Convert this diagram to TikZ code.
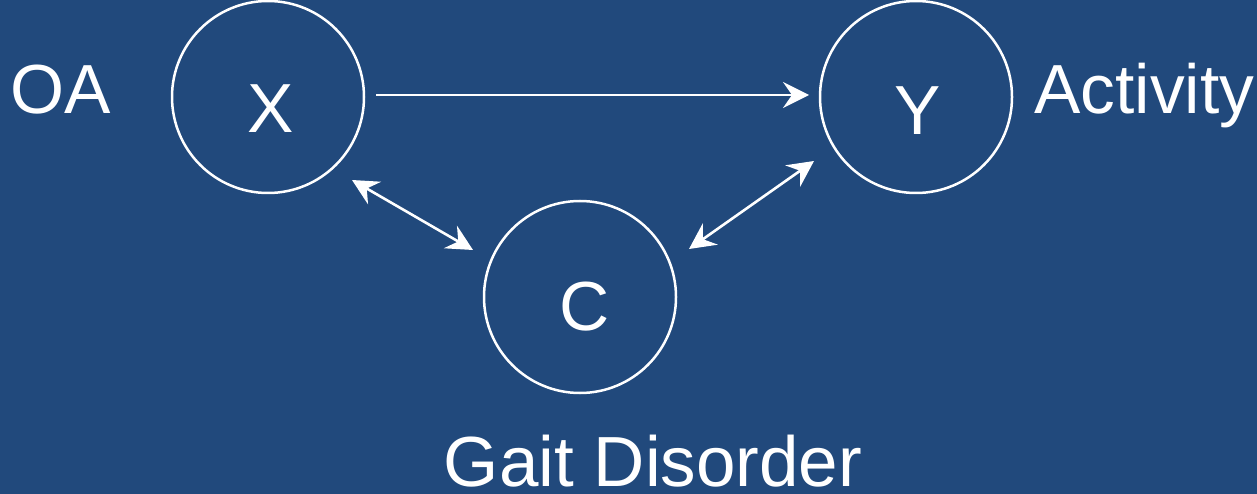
\documentclass[tikz,border=0pt]{standalone}
\usepackage{fontspec}
\setmainfont{Liberation Sans}
\usetikzlibrary{arrows.meta}
\definecolor{bgblue}{RGB}{33,73,124}
\tikzset{
  var/.style={draw=white, line width=2.5pt, circle, minimum size=192pt, inner sep=0pt},
  lbl/.style={text=white, inner sep=0pt, font=\fontsize{69.5}{80}\selectfont},
  biglbl/.style={lbl, font=\fontsize{71}{80}\selectfont},
  link/.style={draw=white, line width=2.6pt, -{Stealth[length=26pt,width=26pt,inset=9pt]}},
  bilink/.style={draw=white, line width=2.6pt, {Stealth[length=26pt,width=26pt,inset=9pt]}-{Stealth[length=26pt,width=26pt,inset=9pt]}}
}
\begin{document}
\begin{tikzpicture}[x=1pt,y=-1pt]
  \fill[bgblue] (0,0) rectangle (1257,494);
  \useasboundingbox (0,0) rectangle (1257,494);
  % variable circles
  \node[var] (x) at (268,97) {};
  \node[var] (y) at (916,97) {};
  \node[var] (c) at (580,297) {};
  % letters inside the circles
  \node[lbl, anchor=base] (xt) at (271,133) {X};
  \node[lbl, anchor=base] (yt) at (918,135) {Y};
  \node[lbl, anchor=base] (ct) at (585,330) {C};
  % descriptive labels
  \node[lbl, anchor=base west] (oa) at (10,114) {OA};
  \node[lbl, anchor=base west] (act) at (1034,114) {Activity};
  \node[biglbl, anchor=base] (gait) at (653,486) {Gait Disorder};
  % edge endpoints
  \coordinate (xr) at (376,95);
  \coordinate (yl) at (809,95);
  \coordinate (xb) at (352,180);
  \coordinate (cl) at (473,250);
  \coordinate (yb) at (814,161);
  \coordinate (cr) at (689,249);
  % edges
  \draw[link] (xr) -- (yl);
  \draw[bilink] (xb) -- (cl);
  \draw[bilink] (yb) -- (cr);
\end{tikzpicture}
\end{document}
